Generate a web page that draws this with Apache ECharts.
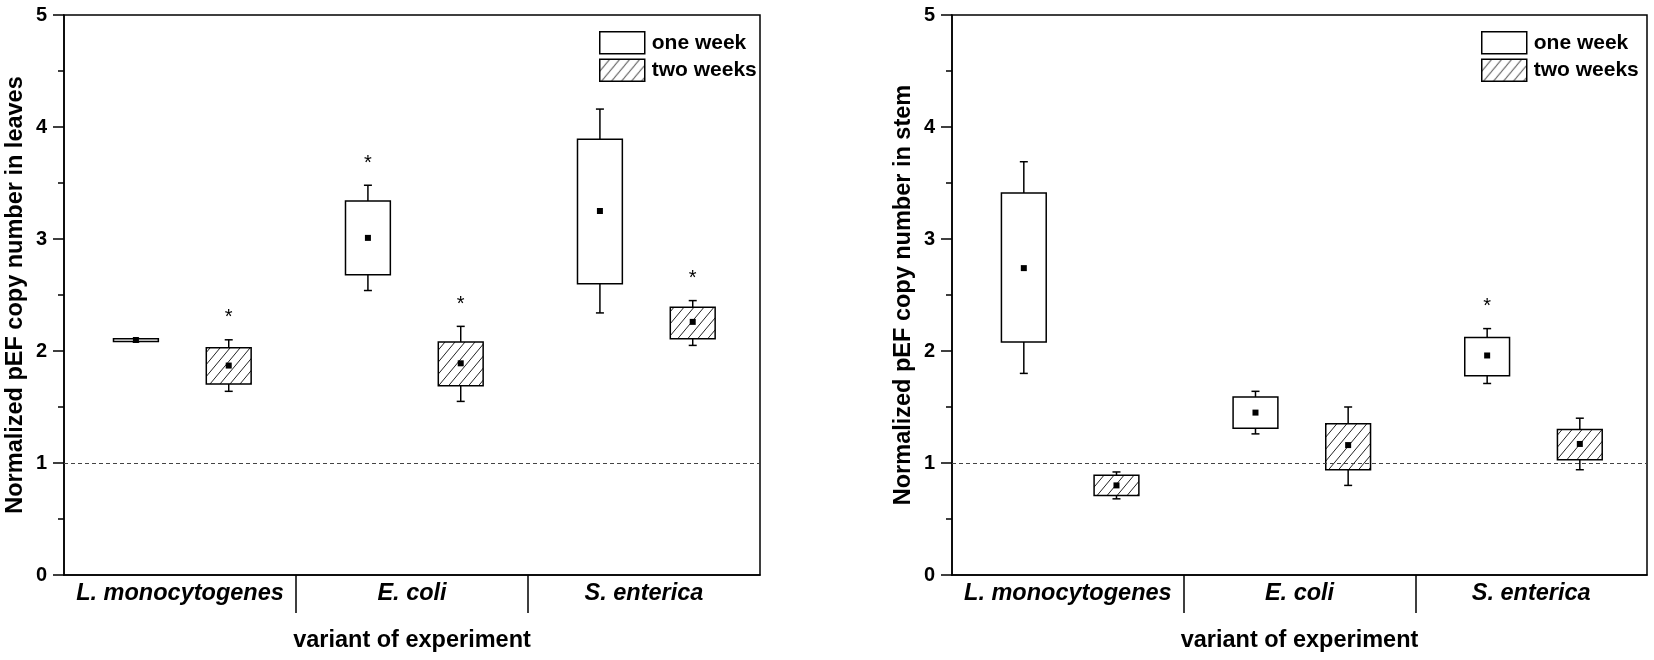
<!DOCTYPE html>
<html>
<head>
<meta charset="utf-8">
<script src="https://cdn.jsdelivr.net/npm/echarts@6/dist/echarts.min.js"></script>
<style>
  html, body { margin: 0; padding: 0; background: #fff; }
  #main { width: 1654px; height: 660px; }
</style>
</head>
<body>
<div id="main"></div>
<script>
// categories and series
var categories = ['L. monocytogenes', 'E. coli', 'S. enterica'];
var seriesNames = ['one week', 'two weeks'];

// each row: [whisker low, box low, mean, box high, whisker high]
var leavesOneWeek  = [[2.085, 2.085, 2.098, 2.11, 2.11], [2.54, 2.68, 3.01, 3.34, 3.48], [2.34, 2.60, 3.25, 3.89, 4.16]];
var leavesTwoWeeks = [[1.64, 1.705, 1.87, 2.03, 2.10], [1.55, 1.69, 1.89, 2.08, 2.22], [2.05, 2.11, 2.26, 2.39, 2.45]];
var stemOneWeek    = [[1.80, 2.08, 2.74, 3.41, 3.69], [1.26, 1.31, 1.45, 1.59, 1.64], [1.71, 1.78, 1.96, 2.12, 2.20]];
var stemTwoWeeks   = [[0.68, 0.71, 0.80, 0.89, 0.92], [0.80, 0.94, 1.16, 1.35, 1.50], [0.94, 1.03, 1.17, 1.30, 1.40]];

// significance (*) per category
var leavesOneWeekSig  = [false, true, false];
var leavesTwoWeeksSig = [true, true, true];
var stemOneWeekSig    = [false, false, true];
var stemTwoWeeksSig   = [false, false, false];

var yTitles = ['Normalized pEF copy number in leaves', 'Normalized pEF copy number in stem'];
var xTitle = 'variant of experiment';

var FONT = 'Liberation Sans, Arial, sans-serif';

// hatch pattern for "two weeks"
function makeHatch() {
    var c = document.createElement('canvas');
    c.width = 10; c.height = 12;
    var g = c.getContext('2d');
    g.fillStyle = '#fff';
    g.fillRect(0, 0, 10, 12);
    g.strokeStyle = '#222';
    g.lineWidth = 1;
    g.beginPath();
    g.moveTo(-1, 13.2); g.lineTo(11, -1.2);
    g.moveTo(-1, 1.2); g.lineTo(1, -1.2);
    g.moveTo(9, 13.2); g.lineTo(11, 10.8);
    g.stroke();
    return c;
}
var hatch = { image: makeHatch(), repeat: 'repeat' };

// x position of a box: category slot is 3 units wide
var offsets = [0.93, 2.13];
var boxWidth = 0.58;

function toData(rows, sig, k) {
    return rows.map(function (r, i) {
        return [i * 3 + offsets[k], r[0], r[1], r[2], r[3], r[4], sig[i] ? 1 : 0];
    });
}

function renderBox(fill) {
    return function (params, api) {
        var x = api.value(0);
        var pLo = api.coord([x, api.value(1)]);
        var pQ1 = api.coord([x, api.value(2)]);
        var pMean = api.coord([x, api.value(3)]);
        var pQ3 = api.coord([x, api.value(4)]);
        var pHi = api.coord([x, api.value(5)]);
        var cx = pQ1[0];
        var w = api.size([boxWidth, 0])[0];
        var cap = 4;
        var ls = { stroke: '#000', lineWidth: 1.5 };
        var kids = [
            { type: 'line', shape: { x1: cx, y1: pQ3[1], x2: cx, y2: pHi[1] }, style: ls },
            { type: 'line', shape: { x1: cx, y1: pQ1[1], x2: cx, y2: pLo[1] }, style: ls },
            { type: 'line', shape: { x1: cx - cap, y1: pHi[1], x2: cx + cap, y2: pHi[1] }, style: ls },
            { type: 'line', shape: { x1: cx - cap, y1: pLo[1], x2: cx + cap, y2: pLo[1] }, style: ls },
            { type: 'rect', shape: { x: cx - w / 2, y: pQ3[1], width: w, height: Math.max(pQ1[1] - pQ3[1], 1) },
              style: { fill: fill, stroke: '#000', lineWidth: 1.5 } },
            { type: 'rect', shape: { x: cx - 3, y: pMean[1] - 3, width: 6, height: 6 }, style: { fill: '#000' } }
        ];
        if (api.value(6)) {
            var pStar = api.coord([x, api.value(5) + 0.24]);
            kids.push({ type: 'text', x: cx, y: pStar[1] + 5,
                style: { text: '*', fill: '#000', font: '20px ' + FONT, align: 'center', verticalAlign: 'middle' } });
        }
        return { type: 'group', children: kids };
    };
}

var grids = [
    { left: 64, right: 894, top: 15, bottom: 85 },
    { left: 952, right: 7, top: 15, bottom: 85 }
];

function xAxisFor(idx) {
    return {
        type: 'value', gridIndex: idx, min: 0, max: 9,
        name: xTitle, nameLocation: 'middle', nameGap: 54,
        nameTextStyle: { fontFamily: FONT, fontWeight: 'bold', fontSize: 23.5, color: '#000' },
        axisLine: { lineStyle: { color: '#000', width: 1.5 } },
        axisTick: { show: true, customValues: [3, 6], length: 38, lineStyle: { color: '#000', width: 1.5 } },
        axisLabel: {
            customValues: [1.5, 4.5, 7.5], margin: 7,
            fontFamily: FONT, fontWeight: 'bold', fontStyle: 'italic', fontSize: 23.5, color: '#000',
            formatter: function (v) { return categories[Math.round((v - 1.5) / 3)]; }
        },
        splitLine: { show: false }
    };
}

function yAxisFor(idx) {
    return {
        type: 'value', gridIndex: idx, min: 0, max: 5, interval: 1,
        name: yTitles[idx], nameLocation: 'middle', nameGap: 36,
        nameTextStyle: { fontFamily: FONT, fontWeight: 'bold', fontSize: 23.5, color: '#000' },
        axisLine: { show: true, lineStyle: { color: '#000', width: 1.5 } },
        axisTick: { show: true, length: 11, lineStyle: { color: '#000', width: 1.5 } },
        minorTick: { show: true, splitNumber: 2, length: 6, lineStyle: { color: '#000', width: 1.5 } },
        axisLabel: { margin: 17, fontFamily: FONT, fontWeight: 'bold', fontSize: 20, color: '#000' },
        splitLine: { show: false }
    };
}

function boxSeries(name, rows, sig, k, idx, withLine) {
    var s = {
        type: 'custom', name: name, xAxisIndex: idx, yAxisIndex: idx,
        renderItem: renderBox(k === 0 ? '#fff' : hatch),
        encode: { x: 0, y: [1, 2, 3, 4, 5] },
        itemStyle: { color: k === 0 ? '#fff' : hatch, borderColor: '#000' },
        data: toData(rows, sig, k),
        z: 3
    };
    if (withLine) {
        s.markLine = {
            silent: true, symbol: 'none', label: { show: false },
            lineStyle: { color: '#444', type: [4, 3], width: 1.2 },
            data: [{ yAxis: 1 }]
        };
    }
    return s;
}

function legendFor(left) {
    return {
        orient: 'vertical', left: left, top: 26, itemGap: 4,
        itemWidth: 45, itemHeight: 22, icon: 'rect', selectedMode: false,
        textStyle: { fontFamily: FONT, fontWeight: 'bold', fontSize: 21, color: '#000', padding: [0, 0, 0, 2] },
        data: [
            { name: seriesNames[0], itemStyle: { color: '#fff', borderColor: '#000', borderWidth: 1.5 } },
            { name: seriesNames[1], itemStyle: { color: hatch, borderColor: '#000', borderWidth: 1.5 } }
        ]
    };
}

var myChart = echarts.init(document.getElementById('main'));
var option = {
    backgroundColor: '#fff',
    animation: false,
    grid: grids.map(function (g) {
        return Object.assign({ show: true, borderColor: '#000', borderWidth: 1.5, backgroundColor: 'transparent' }, g);
    }),
    legend: [legendFor(594), legendFor(1476)],
    xAxis: [xAxisFor(0), xAxisFor(1)],
    yAxis: [yAxisFor(0), yAxisFor(1)],
    series: [
        boxSeries(seriesNames[0], leavesOneWeek, leavesOneWeekSig, 0, 0, true),
        boxSeries(seriesNames[1], leavesTwoWeeks, leavesTwoWeeksSig, 1, 0, false),
        boxSeries(seriesNames[0], stemOneWeek, stemOneWeekSig, 0, 1, true),
        boxSeries(seriesNames[1], stemTwoWeeks, stemTwoWeeksSig, 1, 1, false)
    ]
};
myChart.setOption(option);
</script>
</body>
</html>
